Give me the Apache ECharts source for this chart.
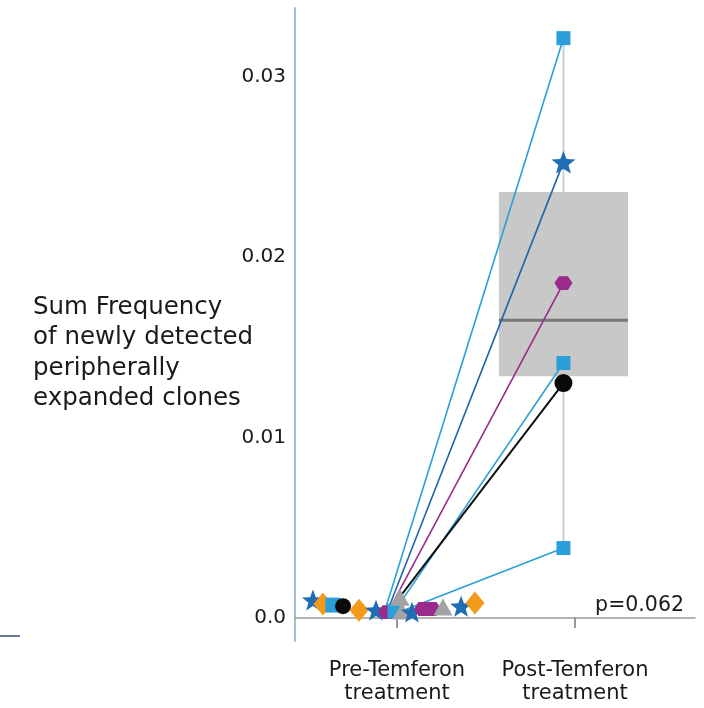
<!DOCTYPE html>
<html>
<head>
<meta charset="utf-8">
<script src="https://cdn.jsdelivr.net/npm/echarts@6/dist/echarts.min.js"></script>
<style>
  html, body { margin: 0; padding: 0; background: #fff; }
  #chart { width: 704px; height: 708px; }
</style>
</head>
<body>
<div id="chart"></div>
<script>
// ---------------- DATA ----------------
const categories = ['Pre-Temferon\ntreatment', 'Post-Temferon\ntreatment'];
const yTickValues = [0, 0.01, 0.02, 0.03];
const yTickLabels = ['0.0', '0.01', '0.02', '0.03'];
const pValueText = 'p=0.062';
const yTitleLines = ['Sum Frequency', 'of newly detected', 'peripherally', 'expanded clones'];

// Pre-treatment observations (jittered horizontal position around category 1)
const preX = [0.528, 0.584, 0.640, 0.697, 0.787, 0.882, 0.944, 0.989, 1.017, 1.028, 1.084, 1.146, 1.197, 1.258, 1.360, 1.438];
const preY = [0.00100, 0.00078, 0.00072, 0.00066, 0.00044, 0.00044, 0.00033, 0.00039, 0.00116, 0.00039, 0.00033, 0.00050, 0.00050, 0.00061, 0.00066, 0.00083];
const preShape = ['star', 'diamond', 'square', 'circle', 'diamond', 'star', 'hexagon', 'square', 'triangle', 'triangle', 'star', 'hexagon', 'hexagon', 'triangle', 'star', 'diamond'];

// Post-treatment observations (category 2)
const postX = 1.935;
const postY = [0.03213, 0.02526, 0.01856, 0.01413, 0.01302, 0.00388];
const postShape = ['square', 'star', 'hexagon', 'square', 'circle', 'square'];

// Paired connections: pre-treatment end of each connecting line
const pairPreX = [0.938, 0.955, 0.955, 1.006, 1.011, 1.028];
const pairPreY = [0.00061, 0.00061, 0.00044, 0.00066, 0.00111, 0.00039];

// Box plot statistics for post-treatment: [min, Q1, median, Q3, max]
const boxStats = [0.00388, 0.0134, 0.0165, 0.0236, 0.03213];

// ---------------- STYLE ----------------
const FONT = 'DejaVu Sans';
const STAR = 'path://M50 0 L62.34 33.01 L97.55 34.55 L69.97 56.49 L79.39 90.45 L50 71 L20.61 90.45 L30.03 56.49 L2.45 34.55 L37.66 33.01 Z';
const HEX = 'path://M25 0 L75 0 L100 43.3 L75 86.6 L25 86.6 L0 43.3 Z';
const shapeStyle = {
  star:     { symbol: STAR, color: '#1f6db4', size: 22 },
  diamond:  { symbol: 'diamond', color: '#f39a1a', size: [19, 23] },
  square:   { symbol: 'rect', color: '#2b9fd9', size: 15 },
  circle:   { symbol: 'circle', color: '#0a0a0a', size: 16 },
  triangle: { symbol: 'triangle', color: '#a3a3a3', size: [19, 17] },
  hexagon:  { symbol: HEX, color: '#9a2a8c', size: [18, 16] }
};
const pairLineColors = ['#2b9fd9', '#1f63a8', '#9a2a8c', '#2b9fd9', '#111111', '#2b9fd9'];

const chart = echarts.init(document.getElementById('chart'), null, { renderer: 'canvas' });

const series = [];

// Box + whisker via custom series
series.push({
  type: 'custom',
  z: 1,
  silent: true,
  data: [[postX].concat(boxStats)],
  renderItem: function (params, api) {
    const x = api.value(0);
    const lo = api.coord([x, api.value(1)]);
    const q1 = api.coord([x, api.value(2)]);
    const med = api.coord([x, api.value(3)]);
    const q3 = api.coord([x, api.value(4)]);
    const hi = api.coord([x, api.value(5)]);
    const halfW = (api.coord([x + 0.3625, 0])[0] - api.coord([x, 0])[0]);
    return {
      type: 'group',
      children: [
        { type: 'line', shape: { x1: lo[0], y1: lo[1], x2: hi[0], y2: hi[1] }, style: { stroke: '#cfcfcf', lineWidth: 2 } },
        { type: 'rect', shape: { x: q3[0] - halfW, y: q3[1], width: halfW * 2, height: q1[1] - q3[1] }, style: { fill: '#c8c8c8' } },
        { type: 'line', shape: { x1: med[0] - halfW, y1: med[1], x2: med[0] + halfW, y2: med[1] }, style: { stroke: '#777777', lineWidth: 3 } }
      ]
    };
  }
});

// Paired lines
for (let i = 0; i < postY.length; i++) {
  series.push({
    type: 'line',
    z: 2,
    silent: true,
    showSymbol: false,
    symbol: 'none',
    lineStyle: { color: pairLineColors[i], width: pairLineColors[i] === '#111111' ? 2 : 1.6 },
    data: [[pairPreX[i], pairPreY[i]], [postX, postY[i]]]
  });
}

// Pre markers
for (let i = 0; i < preX.length; i++) {
  const s = shapeStyle[preShape[i]];
  series.push({
    type: 'scatter',
    z: 3,
    symbol: s.symbol,
    symbolSize: s.size,
    symbolKeepAspect: true,
    itemStyle: { color: s.color, opacity: 1 },
    data: [[preX[i], preY[i]]]
  });
}
// Post markers
for (let i = 0; i < postY.length; i++) {
  const s = shapeStyle[postShape[i]];
  let size = s.size;
  if (postShape[i] === 'star') size = 24;
  if (postShape[i] === 'hexagon') size = [18, 16];
  if (postShape[i] === 'circle') size = 18;
  if (postShape[i] === 'square') size = 14;
  series.push({
    type: 'scatter',
    z: 4,
    symbol: s.symbol,
    symbolSize: size,
    symbolKeepAspect: true,
    itemStyle: { color: s.color, opacity: 1 },
    data: [[postX, postY[i]]]
  });
}

const option = {
  backgroundColor: '#ffffff',
  animation: false,
  grid: { left: 295, right: 9, top: 8, bottom: 67, containLabel: false },
  xAxis: {
    type: 'value',
    min: 0.427,
    max: 2.674,
    splitLine: { show: false },
    axisLine: { show: true, lineStyle: { color: '#9a9a9a', width: 1.5 } },
    axisTick: { show: true, customValues: [1, 2], length: 10, lineStyle: { color: '#7a7a7a', width: 1.5 } },
    axisLabel: {
      show: true,
      customValues: [1, 2],
      formatter: function (v) { return categories[Math.round(v) - 1] || ''; },
      color: '#1a1a1a',
      fontFamily: FONT,
      fontSize: 21,
      lineHeight: 23,
      margin: 18
    }
  },
  yAxis: {
    type: 'value',
    min: -0.00127,
    max: 0.0338,
    splitLine: { show: false },
    axisLine: { show: true, lineStyle: { color: '#a6c0cd', width: 2 } },
    axisTick: { show: false },
    axisLabel: {
      show: true,
      customValues: yTickValues,
      formatter: function (v) {
        const idx = yTickValues.findIndex(t => Math.abs(t - v) < 1e-9);
        return idx >= 0 ? yTickLabels[idx] : '';
      },
      color: '#1a1a1a',
      fontFamily: FONT,
      fontSize: 20,
      margin: 9
    }
  },
  graphic: [
    {
      type: 'text',
      left: 33,
      top: 292,
      style: {
        text: yTitleLines.join('\n'),
        fill: '#1a1a1a',
        font: '24.5px "' + FONT + '"',
        lineHeight: 30.5
      }
    },
    {
      type: 'text',
      right: 20,
      top: 595,
      style: {
        text: pValueText,
        fill: '#1a1a1a',
        font: '20.5px "' + FONT + '"'
      }
    },
    {
      type: 'line',
      shape: { x1: 0, y1: 636, x2: 20, y2: 636 },
      style: { stroke: '#6a7a9a', lineWidth: 2 }
    }
  ],
  series: series
};

chart.setOption(option);
</script>
</body>
</html>
